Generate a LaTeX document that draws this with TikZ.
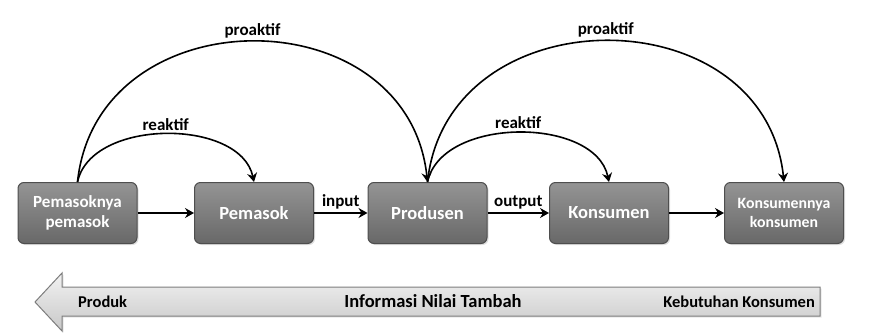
\documentclass[tikz,border=0pt]{standalone}
\usepackage{fontspec}
\setmainfont{Carlito}
\usetikzlibrary{arrows.meta,shadows}

\definecolor{boxtop}{RGB}{148,148,148}
\definecolor{boxbot}{RGB}{104,104,104}
\definecolor{boxline}{RGB}{78,78,78}
\definecolor{bandtop}{RGB}{242,242,242}
\definecolor{bandbot}{RGB}{200,200,200}
\definecolor{bandline}{RGB}{125,125,125}

\begin{document}
\begin{tikzpicture}[%
  x=1pt, y=1pt,
  box/.style   = {draw=boxline, line width=1pt, rounded corners=6pt,
                  top color=boxtop, bottom color=boxbot,
                  minimum width=119pt, minimum height=61pt,
                  text=white, align=center,
                  font=\bfseries\fontsize{18.5}{19}\selectfont,
                  drop shadow={opacity=0.25, shadow xshift=1.5pt, shadow yshift=-1.5pt}},
  twobox/.style   = {box, font=\bfseries\fontsize{17}{20}\selectfont},
  smallbox/.style = {box, font=\bfseries\fontsize{15.8}{19}\selectfont},
  flow/.style  = {line width=1.6pt, ->},
  lbl/.style   = {font=\bfseries\fontsize{17}{18}\selectfont, inner sep=1pt},
  bandtext/.style = {font=\bfseries\fontsize{16.5}{17}\selectfont, inner sep=0pt},
  >={Stealth[length=9pt, width=10pt, inset=3pt]},
]
  \useasboundingbox (0,0) rectangle (872,333);

  % supply chain
  \node[twobox]   (pp) at (77.5,120) {Pemasoknya\\pemasok};
  \node[box]      (ps) at (254,120)  {Pemasok};
  \node[box]      (pr) at (427.5,120) {Produsen};
  \node[box]      (ks) at (609,120)  {Konsumen};
  \node[smallbox] (kk) at (784,120)  {Konsumennya\\konsumen};

  \draw[flow] (pp) -- (ps);
  \draw[flow] (ps) -- node[lbl, above=2pt] (in) {input} (pr);
  \draw[flow] (pr) -- node[lbl, above=2pt] (out) {output} (ks);
  \draw[flow] (ks) -- (kk);

  % arcs
  \draw[flow] (pp.north) to[out=84, in=96, looseness=1.38]
    node[lbl, above=2pt] (pro1) {proaktif} (pr.north);
  \draw[flow] (pp.north) to[out=78, in=102, looseness=0.95]
    node[lbl, above=2pt] (rea1) {reaktif} (ps.north);
  \draw[flow] (pr.north) to[out=84, in=96, looseness=1.36]
    node[lbl, above=2pt] (pro2) {proaktif} (kk.north);
  \draw[flow] (pr.north) to[out=78, in=102, looseness=0.95]
    node[lbl, above=2pt] (rea2) {reaktif} (ks.north);

  % value flow band
  \draw[draw=bandline, line width=1pt, top color=bandtop, bottom color=bandbot,
        drop shadow={opacity=0.2, shadow xshift=1.5pt, shadow yshift=-1.5pt}]
    (35,31) -- (62,60) -- (62,46) -- (820,46) -- (820,17) -- (62,17)
    -- (62,2) -- cycle;
  \node[bandtext, anchor=west] (prod) at (78,31.5) {Produk};
  \node[bandtext, font=\bfseries\fontsize{18.5}{19}\selectfont] (info) at (433,31.5) {Informasi Nilai Tambah};
  \node[bandtext, anchor=east] (need) at (815,31.5) {Kebutuhan Konsumen};
\end{tikzpicture}
\end{document}
